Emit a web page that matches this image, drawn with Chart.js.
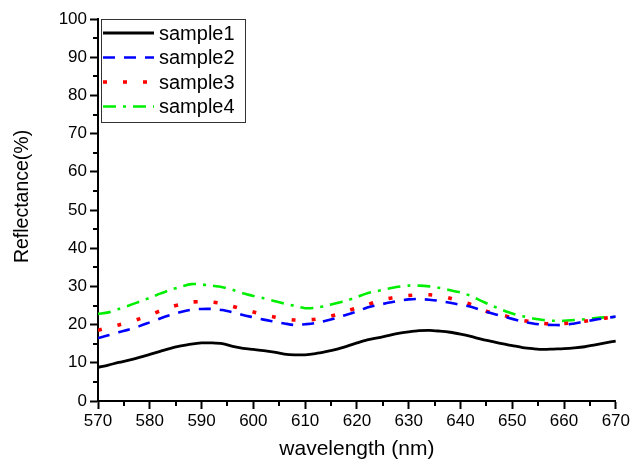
<!DOCTYPE html>
<html lang="en">
<head>
    <meta charset="UTF-8">
    <title>Reflectance vs wavelength</title>
    <script src="https://cdn.jsdelivr.net/npm/chart.js@4.4.0/dist/chart.umd.min.js"></script>
    <style>
        html, body { margin: 0; padding: 0; background: #fff; }
        #wrap { width: 632px; height: 462px; position: relative; }
    </style>
</head>
<body>
    <div id="wrap"><canvas id="reflChart"></canvas></div>
    <script>
        // wavelength samples (nm), every 2 nm
        const wavelength = [570,572,574,576,578,580,582,584,586,588,590,592,594,596,598,600,602,604,606,608,610,612,614,616,618,620,622,624,626,628,630,632,634,636,638,640,642,644,646,648,650,652,654,656,658,660,662,664,666,668,670];

        const sample1 = [8.8,9.4,10.1,10.7,11.4,12.2,13.0,13.8,14.4,14.9,15.2,15.2,15.0,14.3,13.8,13.5,13.2,12.8,12.3,12.1,12.1,12.4,12.9,13.5,14.3,15.2,16.0,16.5,17.1,17.7,18.1,18.4,18.5,18.3,18.0,17.5,16.9,16.2,15.6,15.0,14.5,14.0,13.7,13.5,13.6,13.7,13.9,14.2,14.7,15.2,15.7];
        const sample2 = [16.5,17.2,18.0,18.7,19.6,20.6,21.6,22.5,23.3,23.9,24.1,24.1,23.8,23.2,22.5,21.9,21.3,20.8,20.3,19.9,20.1,20.4,21.0,21.7,22.6,23.4,24.5,25.1,25.7,26.2,26.6,26.7,26.5,26.2,25.7,25.2,24.7,23.8,23.0,22.2,21.5,20.8,20.3,20.0,19.9,19.9,20.3,20.8,21.3,21.7,22.1];
        const sample3 = [18.5,19.2,19.9,20.6,21.5,22.5,23.6,24.6,25.3,25.9,26.0,25.9,25.5,24.8,24.0,23.3,22.6,22.0,21.5,21.2,21.2,21.4,21.9,22.6,23.5,24.4,25.2,26.1,26.8,27.3,27.6,27.8,27.8,27.5,26.9,26.1,25.3,24.0,23.1,22.5,21.8,21.1,20.7,20.3,20.2,20.3,20.5,20.9,21.3,21.7,22.0];
        const sample4 = [22.8,23.2,24.1,25.0,26.0,27.0,28.1,29.1,29.9,30.6,30.5,30.2,29.8,29.1,28.2,27.5,26.9,26.2,25.5,24.9,24.3,24.4,24.9,25.6,26.3,27.2,28.2,28.8,29.4,29.9,30.2,30.2,30.0,29.6,29.0,28.4,27.5,26.2,25.0,23.9,22.9,22.2,21.6,21.2,21.0,21.0,21.2,21.4,21.7,21.9,22.0];

        const seriesNames = ['sample1', 'sample2', 'sample3', 'sample4'];
        const seriesValues = [sample1, sample2, sample3, sample4];
        const seriesColors = ['#000000', '#0000ff', '#ff0000', '#00ee00'];
        const seriesDash = [[], [12, 9], [4, 16], [13, 7, 3, 7]];
        const seriesWidth = [2.8, 2.6, 3.6, 2.6];

        const xMinorTicks = [575, 585, 595, 605, 615, 625, 635, 645, 655, 665];
        const yMinorTicks = [5, 15, 25, 35, 45, 55, 65, 75, 85, 95];

        const FONT = 'Arial, "Liberation Sans", sans-serif';

        // small outward ticks half way between the labelled ones
        const minorTicks = {
            id: 'minorTicks',
            afterDraw(chart) {
                const { ctx, scales: { x, y }, chartArea } = chart;
                ctx.save();
                ctx.strokeStyle = '#000';
                ctx.lineWidth = 2;
                ctx.beginPath();
                xMinorTicks.forEach(v => {
                    const px = Math.round(x.getPixelForValue(v));
                    ctx.moveTo(px, chartArea.bottom);
                    ctx.lineTo(px, chartArea.bottom + 5);
                });
                yMinorTicks.forEach(v => {
                    const py = Math.round(y.getPixelForValue(v));
                    ctx.moveTo(chartArea.left, py);
                    ctx.lineTo(chartArea.left - 5, py);
                });
                ctx.stroke();
                ctx.restore();
            }
        };

        // boxed legend in the upper left corner of the plot
        const boxLegend = {
            id: 'boxLegend',
            afterDraw(chart) {
                const { ctx, chartArea } = chart;
                const left = chartArea.left + 3, top = chartArea.top;
                const w = 144, h = 103;
                ctx.save();
                ctx.fillStyle = '#fff';
                ctx.fillRect(left, top, w, h);
                ctx.strokeStyle = '#333';
                ctx.lineWidth = 1;
                ctx.strokeRect(left + 0.5, top + 0.5, w, h);
                ctx.font = '20px ' + FONT;
                ctx.textBaseline = 'middle';
                seriesNames.forEach((name, i) => {
                    const yy = top + 14 + i * 24.5;
                    ctx.strokeStyle = seriesColors[i];
                    ctx.lineWidth = seriesWidth[i];
                    ctx.setLineDash(seriesDash[i]);
                    ctx.beginPath();
                    ctx.moveTo(left + 2, yy);
                    ctx.lineTo(left + 53, yy);
                    ctx.stroke();
                    ctx.setLineDash([]);
                    ctx.fillStyle = '#000';
                    ctx.fillText(name, left + 58, yy + 1);
                });
                ctx.restore();
            }
        };

        const datasets = seriesNames.map((name, i) => ({
            label: name,
            data: wavelength.map((w, j) => ({ x: w, y: seriesValues[i][j] })),
            borderColor: seriesColors[i],
            borderWidth: seriesWidth[i],
            borderDash: seriesDash[i],
            pointRadius: 0,
            tension: 0.3,
            fill: false
        }));

        new Chart(document.getElementById('reflChart'), {
            type: 'line',
            data: { datasets },
            options: {
                responsive: true,
                maintainAspectRatio: false,
                animation: false,
                layout: { padding: { left: 0, right: 16, top: 19, bottom: 0 } },
                plugins: {
                    legend: { display: false },
                    tooltip: { enabled: false }
                },
                scales: {
                    x: {
                        type: 'linear',
                        min: 570, max: 670,
                        afterFit: s => { s.height = 61; },
                        border: { color: '#000', width: 2 },
                        grid: { drawOnChartArea: false, tickLength: 8, tickColor: '#000', tickWidth: 2 },
                        ticks: { stepSize: 10, color: '#000', padding: 2, font: { family: FONT, size: 17 } },
                        title: { display: true, text: 'wavelength (nm)', color: '#000', padding: { top: 0, bottom: 0 }, font: { family: FONT, size: 21 } }
                    },
                    y: {
                        min: 0, max: 100,
                        afterFit: s => { s.width = 98; },
                        border: { color: '#000', width: 2 },
                        grid: { drawOnChartArea: false, tickLength: 8, tickColor: '#000', tickWidth: 2 },
                        ticks: { stepSize: 10, color: '#000', padding: 3, font: { family: FONT, size: 17 } },
                        // leading spaces nudge the rotated title a little upward, as in the original
                        title: { display: true, text: '     Reflectance(%)', color: '#000', padding: { top: 11, bottom: 0 }, font: { family: FONT, size: 19.5 } }
                    }
                }
            },
            plugins: [minorTicks, boxLegend]
        });
    </script>
</body>
</html>
